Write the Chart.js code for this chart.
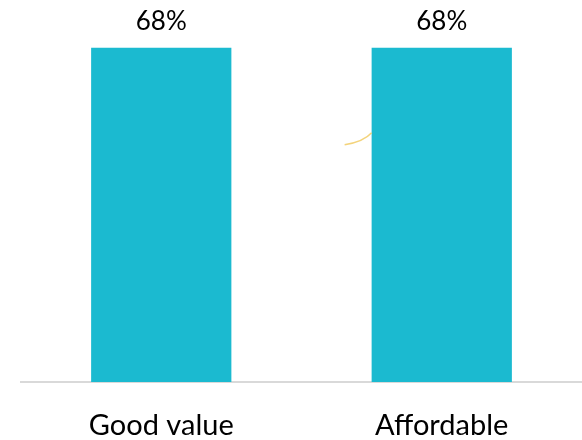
<!DOCTYPE html>
<html>
<head>
<meta charset="utf-8">
<script src="https://cdn.jsdelivr.net/npm/chart.js@4"></script>
<style>
  html, body { margin: 0; padding: 0; background: #fff; }
  #wrap { width: 582px; height: 440px; }
</style>
</head>
<body>
<div id="wrap"><canvas id="myChart" width="582" height="440"></canvas></div>
<script>
const categories = ['Good value', 'Affordable'];
const shares = [68, 68];
const yMax = 70;

const barColor = '#1BBAD0';
const fontFamily = 'Lato, "Open Sans", sans-serif';

// percentage above each bar
const valueLabels = {
    id: 'valueLabels',
    afterDatasetsDraw(chart) {
        const ctx = chart.ctx;
        const meta = chart.getDatasetMeta(0);
        ctx.save();
        ctx.font = '26px ' + fontFamily;
        ctx.fillStyle = '#000';
        ctx.textAlign = 'center';
        ctx.textBaseline = 'middle';
        meta.data.forEach((bar, i) => {
            ctx.fillText(shares[i] + '%', bar.x, bar.y - 26);
        });
        // little leftover connector stroke beside the second bar
        const b = meta.data[1];
        const left = b.x - b.width / 2;
        ctx.strokeStyle = 'rgba(240, 200, 90, 0.8)';
        ctx.lineWidth = 1.5;
        ctx.beginPath();
        ctx.moveTo(left - 27, b.y + 97);
        ctx.quadraticCurveTo(left - 8, b.y + 94, left, b.y + 85);
        ctx.stroke();
        ctx.restore();
    }
};

const ctx = document.getElementById('myChart').getContext('2d');
const myChart = new Chart(ctx, {
    type: 'bar',
    data: {
        labels: categories,
        datasets: [{
            data: shares,
            backgroundColor: barColor,
            categoryPercentage: 1.0,
            barPercentage: 0.5
        }]
    },
    options: {
        responsive: false,
        animation: false,
        layout: { padding: { top: 38, left: 21, right: 0, bottom: 0 } },
        plugins: { legend: { display: false }, tooltip: { enabled: false } },
        scales: {
            x: {
                grid: { display: false },
                border: { display: true, color: '#D9D9D9', width: 2 },
                ticks: {
                    color: '#000',
                    padding: 18,
                    font: { family: fontFamily, size: 29 }
                },
                afterFit(scale) {
                    scale.height = 58;
                }
            },
            y: {
                display: false,
                min: 0,
                max: yMax
            }
        }
    },
    plugins: [valueLabels]
});
</script>
</body>
</html>
